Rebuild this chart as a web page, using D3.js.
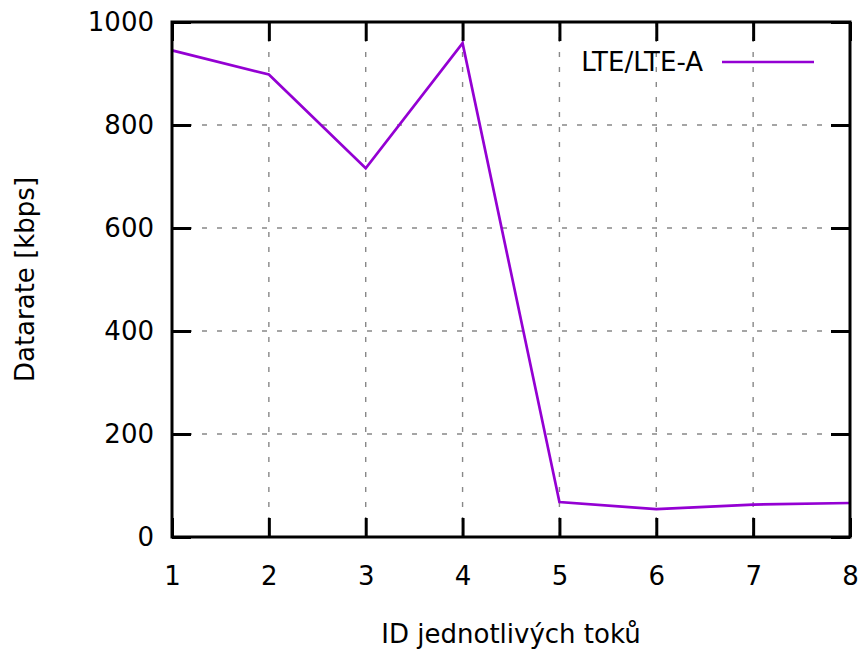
<!DOCTYPE html>
<html>
<head>
<meta charset="utf-8">
<script src="https://cdn.jsdelivr.net/npm/d3@7"></script>
<style>
  body { margin: 0; background: #fff; }
  svg text { font-family: "DejaVu Sans", sans-serif; font-size: 26px; fill: #000; }
  .grid line { stroke: #888; stroke-width: 1.4; stroke-dasharray: 5,10; }
  .axis line { stroke: #000; stroke-width: 3; }
</style>
</head>
<body>
<svg width="859" height="651"></svg>
<script>
// data
var flowIds = [1, 2, 3, 4, 5, 6, 7, 8];
var lteRates = [945, 898, 716, 959, 68, 54, 63, 66];
var yTicks = [0, 200, 400, 600, 800, 1000];
var seriesName = "LTE/LTE-A";
var xLabel = "ID jednotlivých toků";
var yLabel = "Datarate [kbps]";

var svg = d3.select("svg"),
    margin = {top: 22, right: 9, bottom: 114, left: 172},
    width = +svg.attr("width") - margin.left - margin.right,
    height = +svg.attr("height") - margin.top - margin.bottom;

var x = d3.scaleLinear().domain([1, 8]).range([0, width]),
    y = d3.scaleLinear().domain([0, 1000]).range([height, 0]);

var g = svg.append("g")
    .attr("transform", "translate(" + margin.left + "," + margin.top + ")");

// dashed grid
var grid = g.append("g").attr("class", "grid");
grid.selectAll(".gx")
    .data(flowIds.slice(1, -1))
    .enter().append("line")
    .attr("x1", function(d) { return x(d); })
    .attr("x2", function(d) { return x(d); })
    .attr("y1", 0)
    .attr("y2", height);
grid.selectAll(".gy")
    .data(yTicks.slice(1, -1))
    .enter().append("line")
    .attr("x1", 0)
    .attr("x2", width)
    .attr("y1", function(d) { return y(d); })
    .attr("y2", function(d) { return y(d); });

// axes, ticks pointing inward
var tick = 19;
g.append("g")
    .attr("class", "axis")
    .attr("transform", "translate(0," + height + ")")
    .call(d3.axisBottom(x).tickValues(flowIds).tickSize(-tick).tickPadding(30).tickFormat(d3.format("d")));
g.append("g")
    .attr("class", "axis")
    .call(d3.axisTop(x).tickValues(flowIds).tickSize(-tick).tickFormat(""));
g.append("g")
    .attr("class", "axis")
    .call(d3.axisLeft(y).tickValues(yTicks).tickSize(-tick).tickPadding(18).tickFormat(d3.format("d")));
g.append("g")
    .attr("class", "axis")
    .attr("transform", "translate(" + width + ",0)")
    .call(d3.axisRight(y).tickValues(yTicks).tickSize(-tick).tickFormat(""));

g.selectAll(".axis .domain").remove();
g.selectAll(".axis text").attr("font-size", null).attr("font-family", null);

// series line
var points = flowIds.map(function(d, i) { return [d, lteRates[i]]; });
g.append("path")
    .datum(points)
    .attr("fill", "none")
    .attr("stroke", "#9400d3")
    .attr("stroke-width", 2.7)
    .attr("d", d3.line()
        .x(function(d) { return x(d[0]); })
        .y(function(d) { return y(d[1]); }));

// border
g.append("rect")
    .attr("width", width)
    .attr("height", height)
    .attr("fill", "none")
    .attr("stroke", "#000")
    .attr("stroke-width", 3);

// legend
var legend = g.append("g");
legend.append("text")
    .attr("x", 531)
    .attr("y", 49)
    .attr("text-anchor", "end")
    .text(seriesName);
legend.append("line")
    .attr("x1", 550)
    .attr("x2", 642)
    .attr("y1", 40)
    .attr("y2", 40)
    .attr("stroke", "#9400d3")
    .attr("stroke-width", 2.7);

// axis titles
svg.append("text")
    .attr("x", margin.left + width / 2)
    .attr("y", 643)
    .attr("text-anchor", "middle")
    .text(xLabel);
svg.append("text")
    .attr("transform", "translate(34," + (margin.top + height / 2) + ") rotate(-90)")
    .attr("text-anchor", "middle")
    .text(yLabel);
</script>
</body>
</html>
